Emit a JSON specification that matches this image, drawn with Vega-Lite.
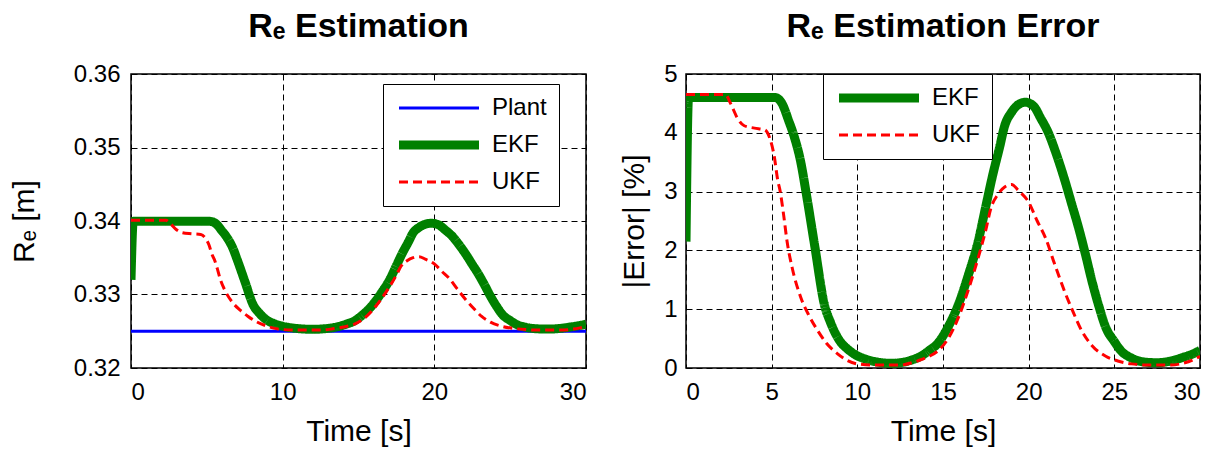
{
  "$schema": "https://vega.github.io/schema/vega-lite/v6.json",
  "background": "white",
  "padding": {"left": 8, "top": 9, "right": 5, "bottom": 0},
  "bounds": "flush",
  "spacing": 100,
  "config": {
    "font": "Liberation Sans",
    "view": {"stroke": "black", "strokeWidth": 1.5},
    "axis": {
      "domain": false,
      "ticks": false,
      "grid": true,
      "gridColor": "black",
      "gridDash": [6, 4],
      "gridWidth": 1,
      "gridOpacity": 1,
      "labelFont": "Liberation Sans",
      "labelFontSize": 24,
      "labelColor": "black",
      "titleFont": "Liberation Sans",
      "titleFontSize": 30,
      "titleFontWeight": "normal",
      "titleColor": "black"
    },
    "axisX": {"labelPadding": 12, "titlePadding": 12},
    "title": {"font": "Liberation Sans", "fontSize": 34, "fontWeight": "bold", "color": "black", "offset": 18},
    "legend": {
      "title": null,
      "symbolType": "M-0.8,0H7.2",
      "symbolSize": 400,
      "labelFont": "Liberation Sans",
      "labelFontSize": 24,
      "labelColor": "black",
      "labelOffset": 73,
      "strokeColor": "black",
      "fillColor": "white",
      "padding": 12,
      "rowPadding": 7
    }
  },
  "datasets": {
    "est": [
      {"t": 0, "s": "Plant", "v": 0.325},
      {"t": 30, "s": "Plant", "v": 0.325},
      {"t": 0, "s": "EKF", "v": 0.33199},
      {"t": 0.15, "s": "EKF", "v": 0.33995},
      {"t": 5.2, "s": "EKF", "v": 0.33995},
      {"t": 5.6, "s": "EKF", "v": 0.33963},
      {"t": 6.0, "s": "EKF", "v": 0.33865},
      {"t": 6.3, "s": "EKF", "v": 0.33784},
      {"t": 6.7, "s": "EKF", "v": 0.33638},
      {"t": 7.0, "s": "EKF", "v": 0.33475},
      {"t": 7.5, "s": "EKF", "v": 0.33183},
      {"t": 8.1, "s": "EKF", "v": 0.32841},
      {"t": 8.4, "s": "EKF", "v": 0.3276},
      {"t": 8.7, "s": "EKF", "v": 0.32695},
      {"t": 9.0, "s": "EKF", "v": 0.32646},
      {"t": 9.4, "s": "EKF", "v": 0.32607},
      {"t": 9.8, "s": "EKF", "v": 0.32578},
      {"t": 10.5, "s": "EKF", "v": 0.32549},
      {"t": 11.2, "s": "EKF", "v": 0.32533},
      {"t": 12.0, "s": "EKF", "v": 0.32526},
      {"t": 12.7, "s": "EKF", "v": 0.32533},
      {"t": 13.1, "s": "EKF", "v": 0.32542},
      {"t": 13.7, "s": "EKF", "v": 0.32565},
      {"t": 14.2, "s": "EKF", "v": 0.32598},
      {"t": 14.7, "s": "EKF", "v": 0.32637},
      {"t": 15.3, "s": "EKF", "v": 0.32728},
      {"t": 15.9, "s": "EKF", "v": 0.32851},
      {"t": 16.5, "s": "EKF", "v": 0.3302},
      {"t": 17.05, "s": "EKF", "v": 0.33199},
      {"t": 17.5, "s": "EKF", "v": 0.33394},
      {"t": 17.9, "s": "EKF", "v": 0.33566},
      {"t": 18.3, "s": "EKF", "v": 0.33719},
      {"t": 18.6, "s": "EKF", "v": 0.33839},
      {"t": 19.0, "s": "EKF", "v": 0.33914},
      {"t": 19.4, "s": "EKF", "v": 0.33956},
      {"t": 19.8, "s": "EKF", "v": 0.33969},
      {"t": 20.3, "s": "EKF", "v": 0.33946},
      {"t": 20.7, "s": "EKF", "v": 0.33881},
      {"t": 21.15, "s": "EKF", "v": 0.338},
      {"t": 21.6, "s": "EKF", "v": 0.33686},
      {"t": 22.1, "s": "EKF", "v": 0.3354},
      {"t": 22.5, "s": "EKF", "v": 0.3341},
      {"t": 22.9, "s": "EKF", "v": 0.3328},
      {"t": 23.3, "s": "EKF", "v": 0.33134},
      {"t": 23.7, "s": "EKF", "v": 0.32978},
      {"t": 24.1, "s": "EKF", "v": 0.32841},
      {"t": 24.5, "s": "EKF", "v": 0.32724},
      {"t": 25.0, "s": "EKF", "v": 0.32646},
      {"t": 25.4, "s": "EKF", "v": 0.32594},
      {"t": 26.0, "s": "EKF", "v": 0.32555},
      {"t": 26.8, "s": "EKF", "v": 0.32533},
      {"t": 27.5, "s": "EKF", "v": 0.32529},
      {"t": 28.3, "s": "EKF", "v": 0.32539},
      {"t": 29.0, "s": "EKF", "v": 0.32559},
      {"t": 29.5, "s": "EKF", "v": 0.32575},
      {"t": 30.0, "s": "EKF", "v": 0.32598},
      {"t": 0, "s": "UKF", "v": 0.34011},
      {"t": 2.3, "s": "UKF", "v": 0.34011},
      {"t": 2.6, "s": "UKF", "v": 0.33963},
      {"t": 3.0, "s": "UKF", "v": 0.33881},
      {"t": 3.4, "s": "UKF", "v": 0.33839},
      {"t": 4.0, "s": "UKF", "v": 0.33826},
      {"t": 4.6, "s": "UKF", "v": 0.33816},
      {"t": 4.9, "s": "UKF", "v": 0.33768},
      {"t": 5.15, "s": "UKF", "v": 0.3367},
      {"t": 5.35, "s": "UKF", "v": 0.3354},
      {"t": 5.5, "s": "UKF", "v": 0.33475},
      {"t": 5.7, "s": "UKF", "v": 0.33345},
      {"t": 5.9, "s": "UKF", "v": 0.33199},
      {"t": 6.2, "s": "UKF", "v": 0.33053},
      {"t": 6.7, "s": "UKF", "v": 0.3289},
      {"t": 7.2, "s": "UKF", "v": 0.32786},
      {"t": 7.7, "s": "UKF", "v": 0.32705},
      {"t": 8.2, "s": "UKF", "v": 0.32637},
      {"t": 8.85, "s": "UKF", "v": 0.32578},
      {"t": 9.4, "s": "UKF", "v": 0.32542},
      {"t": 10.0, "s": "UKF", "v": 0.32523},
      {"t": 11.0, "s": "UKF", "v": 0.32516},
      {"t": 12.5, "s": "UKF", "v": 0.32516},
      {"t": 13.3, "s": "UKF", "v": 0.32533},
      {"t": 13.8, "s": "UKF", "v": 0.32549},
      {"t": 14.2, "s": "UKF", "v": 0.32565},
      {"t": 14.7, "s": "UKF", "v": 0.32594},
      {"t": 15.3, "s": "UKF", "v": 0.32663},
      {"t": 15.9, "s": "UKF", "v": 0.3278},
      {"t": 16.5, "s": "UKF", "v": 0.32939},
      {"t": 17.05, "s": "UKF", "v": 0.33108},
      {"t": 17.5, "s": "UKF", "v": 0.33264},
      {"t": 17.8, "s": "UKF", "v": 0.33384},
      {"t": 18.2, "s": "UKF", "v": 0.33459},
      {"t": 18.6, "s": "UKF", "v": 0.33501},
      {"t": 19.0, "s": "UKF", "v": 0.33514},
      {"t": 19.4, "s": "UKF", "v": 0.33482},
      {"t": 20.0, "s": "UKF", "v": 0.33417},
      {"t": 20.5, "s": "UKF", "v": 0.33313},
      {"t": 21.0, "s": "UKF", "v": 0.33215},
      {"t": 21.5, "s": "UKF", "v": 0.33079},
      {"t": 22.1, "s": "UKF", "v": 0.32923},
      {"t": 22.6, "s": "UKF", "v": 0.32809},
      {"t": 23.1, "s": "UKF", "v": 0.32705},
      {"t": 23.7, "s": "UKF", "v": 0.32624},
      {"t": 24.5, "s": "UKF", "v": 0.32565},
      {"t": 25.2, "s": "UKF", "v": 0.32539},
      {"t": 26.0, "s": "UKF", "v": 0.32523},
      {"t": 27.0, "s": "UKF", "v": 0.32516},
      {"t": 28.3, "s": "UKF", "v": 0.32516},
      {"t": 29.0, "s": "UKF", "v": 0.32526},
      {"t": 29.6, "s": "UKF", "v": 0.32546},
      {"t": 30.0, "s": "UKF", "v": 0.32565}
    ],
    "err": [
      {"t": 0, "s": "EKF", "e": 2.15},
      {"t": 0.15, "s": "EKF", "e": 4.6},
      {"t": 5.2, "s": "EKF", "e": 4.6},
      {"t": 5.6, "s": "EKF", "e": 4.5},
      {"t": 6.0, "s": "EKF", "e": 4.2},
      {"t": 6.3, "s": "EKF", "e": 3.95},
      {"t": 6.7, "s": "EKF", "e": 3.5},
      {"t": 7.0, "s": "EKF", "e": 3.0},
      {"t": 7.5, "s": "EKF", "e": 2.1},
      {"t": 8.1, "s": "EKF", "e": 1.05},
      {"t": 8.4, "s": "EKF", "e": 0.8},
      {"t": 8.7, "s": "EKF", "e": 0.6},
      {"t": 9.0, "s": "EKF", "e": 0.45},
      {"t": 9.4, "s": "EKF", "e": 0.33},
      {"t": 9.8, "s": "EKF", "e": 0.24},
      {"t": 10.5, "s": "EKF", "e": 0.15},
      {"t": 11.2, "s": "EKF", "e": 0.1},
      {"t": 12.0, "s": "EKF", "e": 0.08},
      {"t": 12.7, "s": "EKF", "e": 0.1},
      {"t": 13.1, "s": "EKF", "e": 0.13},
      {"t": 13.7, "s": "EKF", "e": 0.2},
      {"t": 14.2, "s": "EKF", "e": 0.3},
      {"t": 14.7, "s": "EKF", "e": 0.42},
      {"t": 15.3, "s": "EKF", "e": 0.7},
      {"t": 15.9, "s": "EKF", "e": 1.08},
      {"t": 16.5, "s": "EKF", "e": 1.6},
      {"t": 17.05, "s": "EKF", "e": 2.15},
      {"t": 17.5, "s": "EKF", "e": 2.75},
      {"t": 17.9, "s": "EKF", "e": 3.28},
      {"t": 18.3, "s": "EKF", "e": 3.75},
      {"t": 18.6, "s": "EKF", "e": 4.12},
      {"t": 19.0, "s": "EKF", "e": 4.35},
      {"t": 19.4, "s": "EKF", "e": 4.48},
      {"t": 19.8, "s": "EKF", "e": 4.52},
      {"t": 20.3, "s": "EKF", "e": 4.45},
      {"t": 20.7, "s": "EKF", "e": 4.25},
      {"t": 21.15, "s": "EKF", "e": 4.0},
      {"t": 21.6, "s": "EKF", "e": 3.65},
      {"t": 22.1, "s": "EKF", "e": 3.2},
      {"t": 22.5, "s": "EKF", "e": 2.8},
      {"t": 22.9, "s": "EKF", "e": 2.4},
      {"t": 23.3, "s": "EKF", "e": 1.95},
      {"t": 23.7, "s": "EKF", "e": 1.47},
      {"t": 24.1, "s": "EKF", "e": 1.05},
      {"t": 24.5, "s": "EKF", "e": 0.69},
      {"t": 25.0, "s": "EKF", "e": 0.45},
      {"t": 25.4, "s": "EKF", "e": 0.29},
      {"t": 26.0, "s": "EKF", "e": 0.17},
      {"t": 26.8, "s": "EKF", "e": 0.1},
      {"t": 27.5, "s": "EKF", "e": 0.09},
      {"t": 28.3, "s": "EKF", "e": 0.12},
      {"t": 29.0, "s": "EKF", "e": 0.18},
      {"t": 29.5, "s": "EKF", "e": 0.23},
      {"t": 30.0, "s": "EKF", "e": 0.3},
      {"t": 0, "s": "UKF", "e": 4.65},
      {"t": 2.3, "s": "UKF", "e": 4.65},
      {"t": 2.6, "s": "UKF", "e": 4.5},
      {"t": 3.0, "s": "UKF", "e": 4.25},
      {"t": 3.4, "s": "UKF", "e": 4.12},
      {"t": 4.0, "s": "UKF", "e": 4.08},
      {"t": 4.6, "s": "UKF", "e": 4.05},
      {"t": 4.9, "s": "UKF", "e": 3.9},
      {"t": 5.15, "s": "UKF", "e": 3.6},
      {"t": 5.35, "s": "UKF", "e": 3.2},
      {"t": 5.5, "s": "UKF", "e": 3.0},
      {"t": 5.7, "s": "UKF", "e": 2.6},
      {"t": 5.9, "s": "UKF", "e": 2.15},
      {"t": 6.2, "s": "UKF", "e": 1.7},
      {"t": 6.7, "s": "UKF", "e": 1.2},
      {"t": 7.2, "s": "UKF", "e": 0.88},
      {"t": 7.7, "s": "UKF", "e": 0.63},
      {"t": 8.2, "s": "UKF", "e": 0.42},
      {"t": 8.85, "s": "UKF", "e": 0.24},
      {"t": 9.4, "s": "UKF", "e": 0.13},
      {"t": 10.0, "s": "UKF", "e": 0.07},
      {"t": 11.0, "s": "UKF", "e": 0.05},
      {"t": 12.5, "s": "UKF", "e": 0.05},
      {"t": 13.3, "s": "UKF", "e": 0.1},
      {"t": 13.8, "s": "UKF", "e": 0.15},
      {"t": 14.2, "s": "UKF", "e": 0.2},
      {"t": 14.7, "s": "UKF", "e": 0.29},
      {"t": 15.3, "s": "UKF", "e": 0.5},
      {"t": 15.9, "s": "UKF", "e": 0.86},
      {"t": 16.5, "s": "UKF", "e": 1.35},
      {"t": 17.05, "s": "UKF", "e": 1.87},
      {"t": 17.5, "s": "UKF", "e": 2.35},
      {"t": 17.8, "s": "UKF", "e": 2.72},
      {"t": 18.2, "s": "UKF", "e": 2.95},
      {"t": 18.6, "s": "UKF", "e": 3.08},
      {"t": 19.0, "s": "UKF", "e": 3.12},
      {"t": 19.4, "s": "UKF", "e": 3.02},
      {"t": 20.0, "s": "UKF", "e": 2.82},
      {"t": 20.5, "s": "UKF", "e": 2.5},
      {"t": 21.0, "s": "UKF", "e": 2.2},
      {"t": 21.5, "s": "UKF", "e": 1.78},
      {"t": 22.1, "s": "UKF", "e": 1.3},
      {"t": 22.6, "s": "UKF", "e": 0.95},
      {"t": 23.1, "s": "UKF", "e": 0.63},
      {"t": 23.7, "s": "UKF", "e": 0.38},
      {"t": 24.5, "s": "UKF", "e": 0.2},
      {"t": 25.2, "s": "UKF", "e": 0.12},
      {"t": 26.0, "s": "UKF", "e": 0.07},
      {"t": 27.0, "s": "UKF", "e": 0.05},
      {"t": 28.3, "s": "UKF", "e": 0.05},
      {"t": 29.0, "s": "UKF", "e": 0.08},
      {"t": 29.6, "s": "UKF", "e": 0.14},
      {"t": 30.0, "s": "UKF", "e": 0.2}
    ]
  },
  "hconcat": [
    {
      "width": 455,
      "height": 294,
      "title": {"text": "Rₑ Estimation"},
      "data": {"name": "est"},
      "mark": {"type": "line", "clip": true, "interpolate": "monotone"},
      "encoding": {
        "x": {"field": "t", "type": "quantitative", "scale": {"domain": [0, 30], "nice": false}, "axis": {"values": [0, 10, 20, 30], "title": "Time [s]"}},
        "y": {"field": "v", "type": "quantitative", "scale": {"domain": [0.32, 0.36], "nice": false, "zero": false}, "axis": {"values": [0.32, 0.33, 0.34, 0.35, 0.36], "format": ".2f", "title": "Rₑ [m]", "labelPadding": 11, "titlePadding": 34}},
        "color": {"field": "s", "type": "nominal", "scale": {"domain": ["Plant", "EKF", "UKF"], "range": ["#0000ff", "#008000", "#ff0000"]}, "legend": {"orient": "none", "legendX": 252, "legendY": 10, "encode": {"symbols": {"update": {"strokeWidth": {"signal": "datum.value === 'EKF' ? 9 : 3"}}}}}},
        "strokeWidth": {"condition": {"test": "datum.s === 'EKF'", "value": 9}, "value": 3},
        "strokeDash": {"field": "s", "type": "nominal", "scale": {"domain": ["Plant", "EKF", "UKF"], "range": [[1, 0], [1, 0], [9, 5]]}, "legend": {"orient": "none", "legendX": 252, "legendY": 10, "encode": {"symbols": {"update": {"strokeWidth": {"signal": "datum.value === 'EKF' ? 9 : 3"}}}}}}
      }
    },
    {
      "width": 514,
      "height": 294,
      "title": {"text": "Rₑ Estimation Error"},
      "data": {"name": "err"},
      "mark": {"type": "line", "clip": true, "interpolate": "monotone"},
      "encoding": {
        "x": {"field": "t", "type": "quantitative", "scale": {"domain": [0, 30], "nice": false}, "axis": {"values": [0, 5, 10, 15, 20, 25, 30], "title": "Time [s]"}},
        "y": {"field": "e", "type": "quantitative", "scale": {"domain": [0, 5], "nice": false}, "axis": {"values": [0, 1, 2, 3, 4, 5], "title": "|Error| [%]", "labelPadding": 9, "titlePadding": 14}},
        "color": {"field": "s", "type": "nominal", "scale": {"domain": ["EKF", "UKF"], "range": ["#008000", "#ff0000"]}, "legend": {"orient": "none", "legendX": 137, "legendY": 0, "encode": {"symbols": {"update": {"strokeWidth": {"signal": "datum.value === 'EKF' ? 9 : 3"}}}}}},
        "strokeWidth": {"condition": {"test": "datum.s === 'EKF'", "value": 9}, "value": 3},
        "strokeDash": {"field": "s", "type": "nominal", "scale": {"domain": ["EKF", "UKF"], "range": [[1, 0], [9, 5]]}, "legend": {"orient": "none", "legendX": 137, "legendY": 0, "encode": {"symbols": {"update": {"strokeWidth": {"signal": "datum.value === 'EKF' ? 9 : 3"}}}}}}
      }
    }
  ],
  "resolve": {"scale": {"color": "independent", "strokeDash": "independent"}, "legend": {"color": "independent", "strokeDash": "independent"}}
}
